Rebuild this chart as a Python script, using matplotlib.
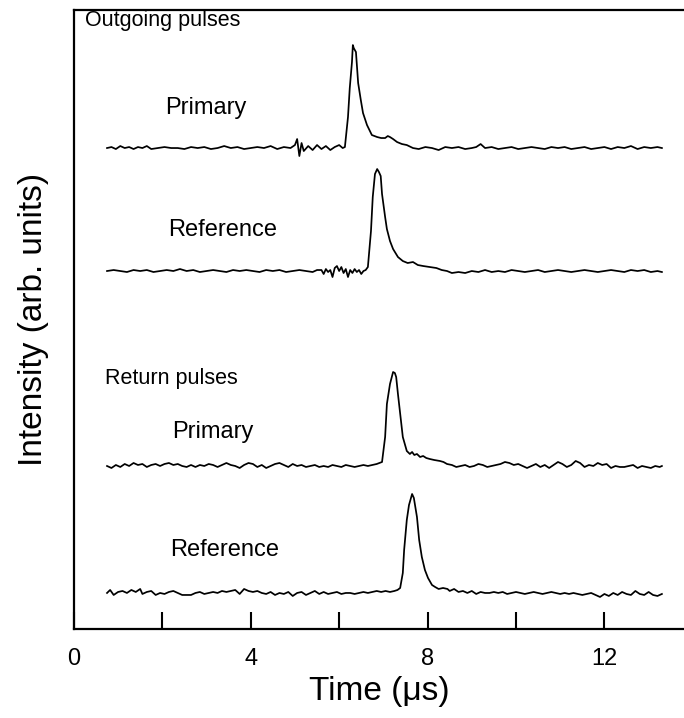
import matplotlib
matplotlib.use("Agg")
import matplotlib.pyplot as plt

plt.rcParams['font.family'] = ['Liberation Sans', 'DejaVu Sans']

# traces: (time in us, signal above baseline, arb. units)
out_primary = [(0.75, 0), (0.85, 1), (0.95, -1), (1.05, 2), (1.15, 0), (1.25, 1), (1.35, -1), (1.45, 1),
               (1.55, 0), (1.65, 2), (1.75, -1), (1.9, 0), (2.05, 1), (2.2, 0), (2.35, 0), (2.5, -1),
               (2.65, 1), (2.8, 0), (2.95, 1), (3.1, -1), (3.25, 0), (3.4, 2), (3.55, 0), (3.7, 1),
               (3.85, -1), (4.0, 0), (4.15, 1), (4.3, 0), (4.45, 2), (4.6, -1), (4.75, 1), (4.9, 0),
               (5.0, 3), (5.05, 9), (5.1, -8), (5.15, 5), (5.2, -3), (5.3, 2), (5.4, -2), (5.5, 3),
               (5.6, -1), (5.7, 2), (5.8, -2), (5.9, 1), (6.0, 3), (6.08, 0), (6.13, 1), (6.2, 31),
               (6.24, 60), (6.29, 86), (6.31, 103), (6.33, 100), (6.38, 96), (6.43, 65), (6.49, 48),
               (6.54, 35), (6.63, 23), (6.74, 13), (6.86, 11), (6.95, 10), (7.04, 10), (7.1, 12),
               (7.15, 11), (7.22, 9), (7.31, 6), (7.42, 4), (7.53, 3), (7.67, 0), (7.8, -1), (7.95, 1),
               (8.1, 0), (8.25, -2), (8.4, 1), (8.55, 0), (8.7, 1), (8.85, -1), (9.0, 0), (9.1, 1),
               (9.2, 4), (9.3, 0), (9.45, 1), (9.6, -1), (9.75, 0), (9.9, 1), (10.05, -1), (10.2, 0),
               (10.35, 1), (10.5, 0), (10.65, -1), (10.8, 1), (10.95, 0), (11.1, 1), (11.25, -1),
               (11.4, 0), (11.55, 1), (11.7, -1), (11.85, 0), (12.0, 1), (12.15, -1), (12.3, 1),
               (12.45, 0), (12.6, 2), (12.75, -1), (12.9, 1), (13.05, 0), (13.2, 1), (13.3, 0)]

out_reference = [(0.75, 0), (0.9, 1), (1.05, 0), (1.2, -1), (1.35, 1), (1.5, 0), (1.65, 1), (1.8, -1),
                 (1.95, 0), (2.1, 1), (2.25, 0), (2.4, 2), (2.55, 0), (2.7, 1), (2.85, -1), (3.0, 0),
                 (3.15, 1), (3.3, 0), (3.45, -1), (3.6, 1), (3.75, 0), (3.9, 1), (4.05, 0), (4.2, -1),
                 (4.35, 1), (4.5, 0), (4.65, 1), (4.8, -1), (4.95, 0), (5.1, 1), (5.25, 0), (5.4, -1),
                 (5.5, 1), (5.6, 1), (5.65, -3), (5.7, 2), (5.75, -1), (5.8, 1), (5.85, -6), (5.9, 3),
                 (5.95, 5), (6.0, 0), (6.05, 4), (6.1, -2), (6.15, 2), (6.2, -6), (6.25, 1), (6.3, -2),
                 (6.35, 2), (6.4, -1), (6.45, 1), (6.5, -3), (6.55, 0), (6.6, 1), (6.65, 4), (6.72, 40),
                 (6.76, 74), (6.81, 97), (6.86, 102), (6.9, 99), (6.94, 95), (6.97, 77), (7.04, 54),
                 (7.08, 42), (7.15, 30), (7.22, 22), (7.33, 14), (7.44, 10), (7.55, 8), (7.67, 9),
                 (7.78, 6), (7.9, 5), (8.05, 4), (8.2, 3), (8.32, 1), (8.44, 0), (8.55, -2), (8.7, -1),
                 (8.85, -2), (9.0, 0), (9.15, -1), (9.3, 1), (9.45, -1), (9.6, 0), (9.75, -1), (9.9, 1),
                 (10.05, 0), (10.2, -1), (10.35, 0), (10.5, 1), (10.65, -1), (10.8, 0), (10.95, 1),
                 (11.1, 0), (11.25, -1), (11.4, 0), (11.55, 1), (11.7, 0), (11.85, -1), (12.0, 0),
                 (12.15, 1), (12.3, 0), (12.45, -1), (12.6, 1), (12.75, 0), (12.9, 1), (13.05, -1),
                 (13.2, 0), (13.3, -1)]

ret_primary = [(0.75, 0), (0.85, -2), (0.95, 1), (1.05, -1), (1.15, 2), (1.25, 0), (1.35, 3), (1.45, 1),
               (1.55, 2), (1.65, -1), (1.75, 1), (1.85, 2), (1.95, 0), (2.05, 2), (2.15, 3), (2.25, 1),
               (2.35, 2), (2.45, 0), (2.55, -1), (2.65, 1), (2.75, -1), (2.85, 1), (2.95, 0), (3.05, 2),
               (3.15, 1), (3.25, -1), (3.35, 1), (3.45, 3), (3.55, 1), (3.65, 0), (3.75, -2), (3.85, 1),
               (3.95, 3), (4.05, 2), (4.15, -1), (4.25, 1), (4.35, -2), (4.45, 0), (4.55, 2), (4.65, 3),
               (4.75, 1), (4.85, -1), (4.95, 2), (5.05, 0), (5.15, 1), (5.25, -1), (5.35, 0), (5.45, 1),
               (5.55, -1), (5.65, 0), (5.75, -1), (5.85, 1), (5.95, 0), (6.05, -1), (6.15, 1), (6.25, 0),
               (6.35, -1), (6.45, 0), (6.55, 1), (6.65, 0), (6.75, 1), (6.85, 2), (6.97, 4), (7.04, 29),
               (7.08, 62), (7.15, 82), (7.22, 94), (7.26, 93), (7.29, 89), (7.33, 72), (7.4, 45),
               (7.44, 29), (7.53, 15), (7.6, 12), (7.65, 14), (7.7, 11), (7.76, 12), (7.83, 9),
               (7.9, 10), (7.97, 8), (8.05, 7), (8.15, 6), (8.28, 5), (8.36, 4), (8.44, 2), (8.55, 1),
               (8.65, -1), (8.75, 0), (8.85, 1), (8.95, -1), (9.05, 0), (9.15, 2), (9.25, 1), (9.35, -1),
               (9.45, 0), (9.55, 1), (9.65, 2), (9.75, 4), (9.85, 3), (9.95, 1), (10.05, 2), (10.15, 0),
               (10.25, -2), (10.35, 0), (10.45, 2), (10.55, -1), (10.65, 1), (10.75, -2), (10.85, 1),
               (10.95, 4), (11.05, 2), (11.15, -1), (11.25, 1), (11.35, 5), (11.45, 3), (11.55, -1),
               (11.65, 1), (11.75, 0), (11.85, 3), (11.95, 1), (12.05, 2), (12.15, -2), (12.25, 0),
               (12.35, -1), (12.45, -1), (12.55, 0), (12.65, 1), (12.75, -2), (12.85, 0), (12.95, -1),
               (13.05, -2), (13.15, 0), (13.25, -1), (13.3, 0)]

ret_reference = [(0.75, 0), (0.82, 3), (0.9, -2), (1.0, 1), (1.1, 2), (1.2, 0), (1.3, 3), (1.4, 1),
                 (1.5, 4), (1.55, -1), (1.65, 1), (1.75, 2), (1.85, -2), (1.95, 0), (2.05, -1), (2.15, 1),
                 (2.25, 2), (2.35, 0), (2.45, -2), (2.55, -2), (2.65, -2), (2.75, 0), (2.85, 1), (2.95, -1),
                 (3.05, 0), (3.15, 1), (3.25, 0), (3.35, 2), (3.45, 1), (3.55, 2), (3.65, 3), (3.75, -1),
                 (3.85, 4), (3.95, 2), (4.05, 1), (4.15, 2), (4.25, 0), (4.35, -1), (4.45, 1), (4.55, -2),
                 (4.65, 0), (4.75, -1), (4.85, 1), (4.95, -3), (5.05, 0), (5.15, 1), (5.25, -2), (5.35, 0),
                 (5.45, 2), (5.55, -1), (5.65, 1), (5.75, -1), (5.85, 0), (5.95, 1), (6.05, -1), (6.15, 0),
                 (6.25, 0), (6.35, -1), (6.45, 0), (6.55, 1), (6.65, 0), (6.75, 1), (6.85, 2), (6.95, 1),
                 (7.05, 2), (7.15, 1), (7.25, 2), (7.32, 3), (7.38, 5), (7.44, 20), (7.47, 43), (7.53, 73),
                 (7.58, 88), (7.65, 99), (7.69, 95), (7.76, 76), (7.81, 53), (7.87, 36), (7.94, 23),
                 (8.01, 15), (8.1, 8), (8.17, 6), (8.25, 4), (8.35, 5), (8.45, 4), (8.5, 2), (8.6, 4),
                 (8.7, 1), (8.8, 2), (8.9, 0), (9.0, 2), (9.1, -1), (9.2, 1), (9.3, 0), (9.4, 0), (9.5, 1),
                 (9.6, 0), (9.7, 1), (9.8, -1), (9.9, 0), (10.0, 1), (10.1, 0), (10.2, -1), (10.3, 0),
                 (10.4, 1), (10.5, 0), (10.6, -1), (10.7, 0), (10.8, 1), (10.9, 0), (11.0, -1), (11.1, 0),
                 (11.2, -1), (11.3, 0), (11.4, -1), (11.5, -2), (11.6, -1), (11.7, 0), (11.8, -2),
                 (11.9, -4), (12.0, -1), (12.1, -3), (12.2, 0), (12.3, -2), (12.4, 1), (12.5, -1),
                 (12.6, -2), (12.7, 2), (12.8, -1), (12.9, -2), (13.0, 1), (13.1, -2), (13.2, -3), (13.3, -1)]

# vertical offset of each trace (arb. units)
traces = [out_primary, out_reference, ret_primary, ret_reference]
offsets = [481, 358, 163, 36]

# annotations: text, x (us), y (arb. units), font size
labels = [("Outgoing pulses", 0.25, 609, 15.5),
          ("Primary", 2.06, 521, 17),
          ("Reference", 2.13, 399, 17),
          ("Return pulses", 0.70, 251, 15.5),
          ("Primary", 2.22, 197, 17),
          ("Reference", 2.17, 79, 17)]

fig = plt.figure(figsize=(6.84, 7.18), dpi=100)
ax = fig.add_axes([0.108, 0.124, 0.892, 0.862])

for tr, off in zip(traces, offsets):
    t = [p[0] for p in tr]
    v = [p[1] + off for p in tr]
    ax.plot(t, v, color='black', lw=1.25)

for txt, x, y, fs in labels:
    ax.text(x, y, txt, fontsize=fs, va='center', ha='left')

ax.set_xlim(0, 13.8)
ax.set_ylim(0, 619)
ax.set_xticks([0, 4, 8, 12])
ax.set_xticks([2, 6, 10], minor=True)
ax.tick_params(axis='x', which='both', direction='in', length=12, width=1.5, labelsize=17, pad=14)
ax.set_yticks([])
for s in ['left', 'bottom', 'top']:
    ax.spines[s].set_linewidth(1.6)
ax.spines['right'].set_visible(False)

ax.set_xlabel("Time (\u03bcs)", fontsize=24, labelpad=4)
ax.set_ylabel("Intensity (arb. units)", fontsize=24, labelpad=18)

fig.savefig("out.png", dpi=100)
